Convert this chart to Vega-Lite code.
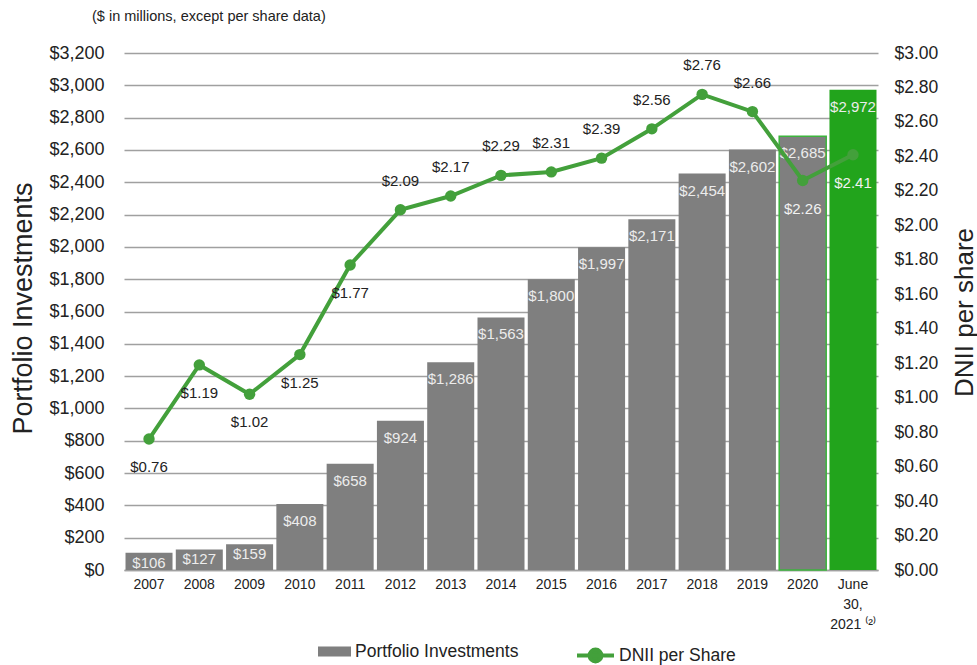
{
  "$schema": "https://vega.github.io/schema/vega-lite/v6.json",
  "width": 754,
  "height": 517,
  "autosize": {"type": "none"},
  "padding": {"left": 124, "top": 53, "right": 99, "bottom": 95},
  "background": "white",
  "title": {"text": "($ in millions, except per share data)", "anchor": "start", "frame": "group", "dx": -32, "offset": 20, "fontSize": 14.5, "fontWeight": "normal", "font": "Liberation Sans", "color": "#222222"},
  "config": {"font": "Liberation Sans", "view": {"stroke": null}},
  "data": {"values": [
    {"year": "2007", "investments": 106, "dnii": 0.76},
    {"year": "2008", "investments": 127, "dnii": 1.19},
    {"year": "2009", "investments": 159, "dnii": 1.02},
    {"year": "2010", "investments": 408, "dnii": 1.25},
    {"year": "2011", "investments": 658, "dnii": 1.77},
    {"year": "2012", "investments": 924, "dnii": 2.09},
    {"year": "2013", "investments": 1286, "dnii": 2.17},
    {"year": "2014", "investments": 1563, "dnii": 2.29},
    {"year": "2015", "investments": 1800, "dnii": 2.31},
    {"year": "2016", "investments": 1997, "dnii": 2.39},
    {"year": "2017", "investments": 2171, "dnii": 2.56},
    {"year": "2018", "investments": 2454, "dnii": 2.76},
    {"year": "2019", "investments": 2602, "dnii": 2.66},
    {"year": "2020", "investments": 2685, "dnii": 2.26},
    {"year": "June 30, 2021", "investments": 2972, "dnii": 2.41}
  ]},
  "encoding": {
    "x": {
      "field": "year", "type": "ordinal", "sort": null,
      "scale": {"paddingInner": 0.065, "paddingOuter": 0.03},
      "axis": {
        "title": null, "labelAngle": 0, "labelFontSize": 14, "labelColor": "#222222",
        "labelPadding": 7, "ticks": false, "domain": true, "domainColor": "#a0a0a0", "domainWidth": 1.5,
        "labelLineHeight": 20, "labelOverlap": false,
        "labelExpr": "datum.value == 'June 30, 2021' ? ['June', '30,', '2021 ⁽²⁾'] : datum.label"
      }
    }
  },
  "resolve": {"scale": {"y": "independent"}},
  "layer": [
    {
      "layer": [
        {
          "mark": {"type": "bar", "strokeWidth": 1.5},
          "encoding": {
            "y": {
              "field": "investments", "type": "quantitative",
              "scale": {"domain": [0, 3200], "nice": false},
              "axis": {
                "orient": "left", "tickCount": 40,
                "values": [0, 200, 400, 600, 800, 1000, 1200, 1400, 1600, 1800, 2000, 2200, 2400, 2600, 2800, 3000, 3200],
                "format": "$,.0f", "grid": true, "gridColor": "#a0a0a0", "gridWidth": 1.5, "labelOverlap": false,
                "domain": false, "ticks": false, "labelFontSize": 18, "labelColor": "#222222", "labelPadding": 20,
                "title": "Portfolio Investments", "titleFontSize": 27, "titleFontWeight": "normal", "titleColor": "#222222",
                "titleAngle": 270, "titleX": -101, "titleY": 255, "titleAlign": "center", "titleBaseline": "middle"
              }
            },
            "color": {
              "condition": {"test": "datum.year == 'June 30, 2021'", "value": "#22a41c"},
              "datum": "Portfolio Investments",
              "scale": {"range": ["#7f7f7f"]},
              "legend": {
                "orient": "none", "legendX": 194, "legendY": 582, "title": null, "padding": 0,
                "symbolType": "M-1,-0.3H1V0.3H-1Z", "symbolSize": 1089, "symbolStrokeWidth": 0,
                "labelFontSize": 17.5, "labelColor": "#222222", "labelOffset": 4, "labelLimit": 400
              }
            },
            "stroke": {"condition": {"test": "datum.year == '2020'", "value": "#3cb43c"}, "value": null}
          }
        },
        {
          "transform": [{"filter": "datum.investments >= 300"}],
          "mark": {"type": "text", "baseline": "middle", "dy": 17, "fontSize": 15, "color": "#ececec"},
          "encoding": {
            "y": {"field": "investments", "type": "quantitative"},
            "text": {"field": "investments", "type": "quantitative", "format": "$,.0f"}
          }
        },
        {
          "transform": [{"filter": "datum.investments < 300"}],
          "mark": {"type": "text", "baseline": "middle", "dy": 10, "fontSize": 15, "color": "#ececec"},
          "encoding": {
            "y": {"field": "investments", "type": "quantitative"},
            "text": {"field": "investments", "type": "quantitative", "format": "$,.0f"}
          }
        }
      ]
    },
    {
      "layer": [
        {
          "mark": {"type": "line", "strokeWidth": 4},
          "encoding": {
            "y": {
              "field": "dnii", "type": "quantitative",
              "scale": {"domain": [0, 3], "nice": false},
              "axis": {
                "orient": "right", "tickCount": 40,
                "values": [0, 0.2, 0.4, 0.6, 0.8, 1.0, 1.2, 1.4, 1.6, 1.8, 2.0, 2.2, 2.4, 2.6, 2.8, 3.0],
                "format": "$.2f", "grid": false, "domain": false, "ticks": false, "labelOverlap": false,
                "labelFontSize": 17.5, "labelColor": "#222222", "labelPadding": 16,
                "title": "DNII per share", "titleFontSize": 26, "titleFontWeight": "normal", "titleColor": "#222222",
                "titleAngle": 270, "titleX": 86, "titleY": 259, "titleAlign": "center", "titleBaseline": "middle"
              }
            },
            "stroke": {
              "datum": "DNII per Share",
              "scale": {"range": ["#43a03b"]},
              "legend": {
                "orient": "none", "legendX": 451, "legendY": 582, "title": null, "padding": 0,
                "symbolType": "M-1,0H1M0.32,0A0.32,0.32 0 1,1 -0.32,0A0.32,0.32 0 1,1 0.32,0Z",
                "symbolSize": 1369, "symbolStrokeWidth": 4, "symbolFillColor": "#43a03b",
                "labelFontSize": 17.5, "labelColor": "#222222", "labelOffset": 3, "labelLimit": 400
              }
            }
          }
        },
        {
          "mark": {"type": "point", "filled": true, "color": "#43a03b", "size": 130, "opacity": 1},
          "encoding": {"y": {"field": "dnii", "type": "quantitative"}}
        },
        {
          "transform": [{"filter": "datum.dnii >= 2 && datum.year != '2020' && datum.year != 'June 30, 2021'"}],
          "mark": {"type": "text", "baseline": "middle", "dy": -29, "fontSize": 15, "color": "#222222"},
          "encoding": {
            "y": {"field": "dnii", "type": "quantitative"},
            "text": {"field": "dnii", "type": "quantitative", "format": "$.2f"}
          }
        },
        {
          "transform": [{"filter": "datum.dnii < 2 || datum.year == '2020' || datum.year == 'June 30, 2021'"}],
          "mark": {"type": "text", "baseline": "middle", "dy": 28, "fontSize": 15},
          "encoding": {
            "y": {"field": "dnii", "type": "quantitative"},
            "text": {"field": "dnii", "type": "quantitative", "format": "$.2f"},
            "color": {"condition": {"test": "datum.year == '2020' || datum.year == 'June 30, 2021'", "value": "#f2f2f2"}, "value": "#222222"}
          }
        }
      ]
    }
  ]
}
